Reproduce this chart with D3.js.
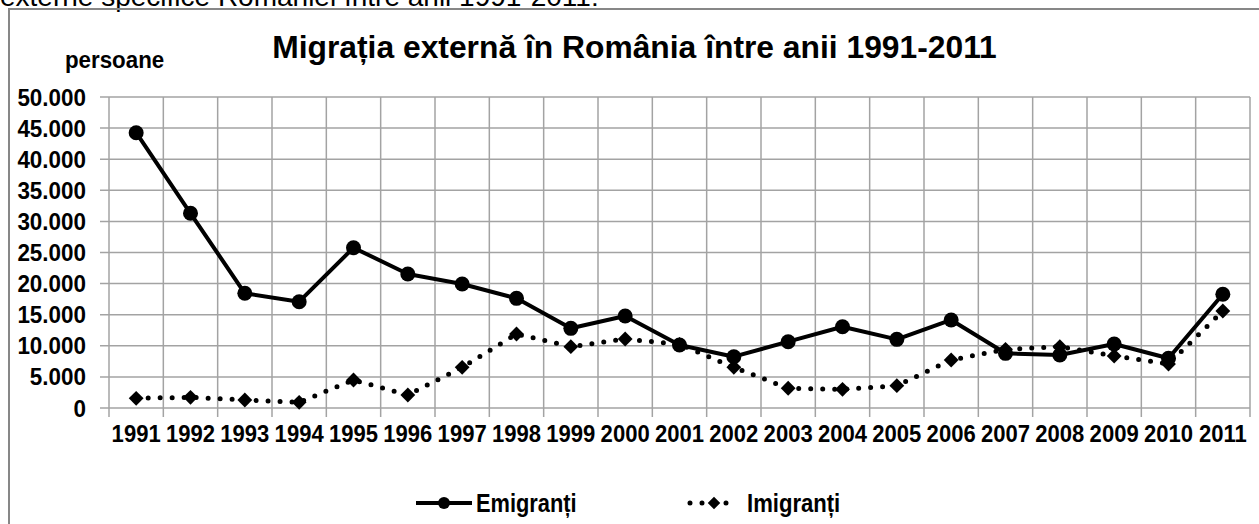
<!DOCTYPE html>
<html>
<head>
<meta charset="utf-8">
<script src="https://cdn.jsdelivr.net/npm/d3@7"></script>
<style>
  html, body { margin: 0; padding: 0; background: #fff; overflow: hidden; }
  svg { display: block; font-family: "Liberation Sans", Arial, sans-serif; }
</style>
</head>
<body>
<svg id="chart" width="1259" height="524"></svg>
<script>
// ---- data ----
const years = ["1991","1992","1993","1994","1995","1996","1997","1998","1999","2000","2001","2002","2003","2004","2005","2006","2007","2008","2009","2010","2011"];
const emigranti = [44260, 31300, 18440, 17090, 25770, 21540, 19940, 17630, 12810, 14790, 10130, 8250, 10660, 13070, 11040, 14150, 8790, 8520, 10290, 7990, 18280];
const imigranti = [1560, 1720, 1290, 910, 4500, 2090, 6540, 11900, 9860, 11090, 10240, 6540, 3170, 3000, 3590, 7720, 9430, 9860, 8360, 7070, 15600];
const yTicks = [0, 5000, 10000, 15000, 20000, 25000, 30000, 35000, 40000, 45000, 50000];
const seriesNames = ["Emigranți", "Imigranți"];
const titleText = "Migrația externă în România între anii 1991-2011";
const unitText = "persoane";
const topCutText = "externe specifice României între anii 1991-2011:";

// ---- layout ----
const svg = d3.select("#chart");
const plot = { left: 109, right: 1250, top: 97, bottom: 408 };
const gridColor = "#a3a3a3";

const x = d3.scaleBand().domain(years).range([plot.left, plot.right]).padding(0);
const y = d3.scaleLinear().domain([0, 50000]).range([plot.bottom, plot.top]);
const loc = d3.formatLocale({ decimal: ",", thousands: ".", grouping: [3], currency: ["", ""] });
const fmt = loc.format(",d");

// text cut at top (from surrounding document)
svg.append("text")
  .attr("x", 0).attr("y", 6)
  .attr("font-size", 28)
  .attr("fill", "#000")
  .text(topCutText);

// chart frame
svg.append("rect")
  .attr("x", 9).attr("y", 9)
  .attr("width", 1400).attr("height", 700)
  .attr("fill", "none")
  .attr("stroke", "#878787")
  .attr("stroke-width", 2);

// title
svg.append("text")
  .attr("x", 634.5).attr("y", 58)
  .attr("text-anchor", "middle")
  .attr("font-size", 31.8)
  .attr("font-weight", "bold")
  .attr("fill", "#000")
  .text(titleText);

// unit label
svg.append("text")
  .attr("transform", "translate(65,68) scale(0.93,1)")
  .attr("font-size", 24)
  .attr("font-weight", "bold")
  .attr("fill", "#000")
  .text(unitText);

// horizontal gridlines + y ticks
const gy = svg.append("g");
gy.selectAll("line.h").data(yTicks).join("line")
  .attr("class", "h")
  .attr("x1", plot.left - 9).attr("x2", plot.right)
  .attr("y1", d => y(d)).attr("y2", d => y(d))
  .attr("stroke", gridColor).attr("stroke-width", 1.5);
gy.selectAll("text").data(yTicks).join("text")
  .attr("transform", d => `translate(86,${y(d) + 8.5}) scale(0.935,1)`)
  .attr("text-anchor", "end")
  .attr("font-size", 24)
  .attr("font-weight", "bold")
  .attr("fill", "#000")
  .text(d => fmt(d));

// vertical gridlines at category boundaries (incl. axis)
const bounds = years.map(d => x(d)).concat([plot.right]);
svg.append("g").selectAll("line").data(bounds).join("line")
  .attr("x1", d => d).attr("x2", d => d)
  .attr("y1", plot.top).attr("y2", plot.bottom + 9)
  .attr("stroke", gridColor).attr("stroke-width", 1.5);

// x labels
svg.append("g").selectAll("text").data(years).join("text")
  .attr("transform", d => `translate(${x(d) + x.bandwidth() / 2},442) scale(0.92,1)`)
  .attr("text-anchor", "middle")
  .attr("font-size", 24)
  .attr("font-weight", "bold")
  .attr("fill", "#000")
  .text(d => d);

const cx = (d, i) => x(years[i]) + x.bandwidth() / 2;
const line = d3.line().x((d, i) => x(years[i]) + x.bandwidth() / 2).y(d => y(d));

// Imigranti: dotted line + diamonds
svg.append("path")
  .datum(imigranti)
  .attr("d", line)
  .attr("fill", "none")
  .attr("stroke", "#000")
  .attr("stroke-width", 5)
  .attr("stroke-linecap", "round")
  .attr("stroke-dasharray", "0,12");
const diamond = d3.symbol().type(d3.symbolDiamond2).size(140);
svg.append("g").selectAll("path").data(imigranti).join("path")
  .attr("d", diamond)
  .attr("transform", (d, i) => `translate(${cx(d, i)},${y(d)})`)
  .attr("fill", "#000");

// Emigranti: solid line + circles
svg.append("path")
  .datum(emigranti)
  .attr("d", line)
  .attr("fill", "none")
  .attr("stroke", "#000")
  .attr("stroke-width", 4)
  .attr("stroke-linejoin", "round");
svg.append("g").selectAll("circle").data(emigranti).join("circle")
  .attr("cx", cx)
  .attr("cy", d => y(d))
  .attr("r", 7.5)
  .attr("fill", "#000");

// legend
const lg = svg.append("g");
const ly = 503;
// Emigranti
lg.append("line").attr("x1", 416).attr("x2", 472).attr("y1", ly).attr("y2", ly)
  .attr("stroke", "#000").attr("stroke-width", 4);
lg.append("circle").attr("cx", 444).attr("cy", ly).attr("r", 6).attr("fill", "#000");
lg.append("text")
  .attr("transform", `translate(476,512) scale(0.84,1)`)
  .attr("font-size", 26).attr("font-weight", "bold").attr("fill", "#000")
  .text(seriesNames[0]);
// Imigranti
lg.append("line").attr("x1", 690).attr("x2", 738).attr("y1", ly).attr("y2", ly)
  .attr("stroke", "#000").attr("stroke-width", 5)
  .attr("stroke-linecap", "round").attr("stroke-dasharray", "0,12");
lg.append("path").attr("d", d3.symbol().type(d3.symbolDiamond2).size(100))
  .attr("transform", `translate(714,${ly})`).attr("fill", "#000");
lg.append("text")
  .attr("transform", `translate(747,512) scale(0.85,1)`)
  .attr("font-size", 26).attr("font-weight", "bold").attr("fill", "#000")
  .text(seriesNames[1]);
</script>
</body>
</html>
